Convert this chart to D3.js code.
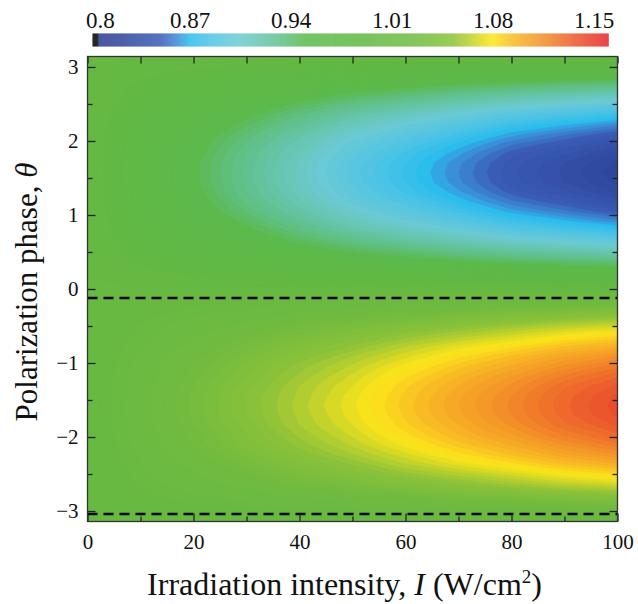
<!DOCTYPE html>
<html>
<head>
<meta charset="utf-8">
<script src="https://cdn.jsdelivr.net/npm/d3@7"></script>
<style>
  body { margin: 0; background: #fff; }
  svg text { font-family: "Liberation Serif", "Times New Roman", serif; fill: #111; }
</style>
</head>
<body>
<div id="chart"></div>
<script>
// irradiation intensity (columns) and polarization phase (rows) of the sampled map
const intensity = [0, 10, 20, 30, 40, 50, 60, 70, 80, 90, 100];
const phase = [-3.142, -3.011, -2.880, -2.749, -2.618, -2.487, -2.356, -2.225, -2.094, -1.963, -1.833, -1.702,
    -1.571, -1.440, -1.309, -1.178, -1.047, -0.916, -0.785, -0.654, -0.524, -0.393, -0.262, -0.131,
    0, 0.131, 0.262, 0.393, 0.524, 0.654, 0.785, 0.916, 1.047, 1.178, 1.309, 1.440,
    1.571, 1.702, 1.833, 1.963, 2.094, 2.225, 2.356, 2.487, 2.618, 2.749, 2.880, 3.011, 3.142];

// ratio, one row per phase value
const ratio = [
    [1, 1.000, 1.000, 1.000, 1.000, 1.000, 1.000, 1.000, 1.000, 1.000, 1.000],
    [1, 1.002, 1.004, 1.006, 1.008, 1.010, 1.012, 1.014, 1.015, 1.017, 1.019],
    [1, 1.004, 1.009, 1.012, 1.016, 1.019, 1.023, 1.027, 1.030, 1.034, 1.037],
    [1, 1.007, 1.013, 1.018, 1.024, 1.029, 1.034, 1.040, 1.045, 1.050, 1.054],
    [1, 1.009, 1.017, 1.024, 1.031, 1.038, 1.045, 1.052, 1.059, 1.066, 1.071],
    [1, 1.010, 1.020, 1.029, 1.038, 1.046, 1.055, 1.063, 1.071, 1.080, 1.086],
    [1, 1.012, 1.023, 1.034, 1.044, 1.053, 1.064, 1.074, 1.083, 1.093, 1.100],
    [1, 1.013, 1.026, 1.038, 1.049, 1.060, 1.071, 1.083, 1.093, 1.104, 1.113],
    [1, 1.015, 1.029, 1.042, 1.054, 1.065, 1.078, 1.090, 1.101, 1.113, 1.123],
    [1, 1.016, 1.030, 1.044, 1.057, 1.069, 1.083, 1.096, 1.108, 1.121, 1.131],
    [1, 1.016, 1.032, 1.046, 1.060, 1.072, 1.087, 1.100, 1.113, 1.127, 1.137],
    [1, 1.017, 1.033, 1.048, 1.061, 1.074, 1.089, 1.103, 1.116, 1.130, 1.141],
    [1, 1.017, 1.033, 1.048, 1.062, 1.075, 1.090, 1.104, 1.117, 1.131, 1.142],
    [1, 1.017, 1.033, 1.048, 1.061, 1.074, 1.089, 1.103, 1.116, 1.130, 1.141],
    [1, 1.016, 1.032, 1.046, 1.060, 1.072, 1.087, 1.100, 1.113, 1.127, 1.137],
    [1, 1.016, 1.030, 1.044, 1.057, 1.069, 1.083, 1.096, 1.108, 1.121, 1.131],
    [1, 1.015, 1.029, 1.042, 1.054, 1.065, 1.078, 1.090, 1.101, 1.113, 1.123],
    [1, 1.013, 1.026, 1.038, 1.049, 1.060, 1.071, 1.083, 1.093, 1.104, 1.113],
    [1, 1.012, 1.023, 1.034, 1.044, 1.053, 1.064, 1.074, 1.083, 1.093, 1.100],
    [1, 1.010, 1.020, 1.029, 1.038, 1.046, 1.055, 1.063, 1.071, 1.080, 1.086],
    [1, 1.009, 1.017, 1.024, 1.031, 1.038, 1.045, 1.052, 1.059, 1.066, 1.071],
    [1, 1.007, 1.013, 1.018, 1.024, 1.029, 1.034, 1.040, 1.045, 1.050, 1.054],
    [1, 1.004, 1.009, 1.012, 1.016, 1.019, 1.023, 1.027, 1.030, 1.034, 1.037],
    [1, 1.002, 1.004, 1.006, 1.008, 1.010, 1.012, 1.014, 1.015, 1.017, 1.019],
    [1, 1.000, 1.000, 1.000, 1.000, 1.000, 1.000, 1.000, 1.000, 1.000, 1.000],
    [1, 0.997, 0.994, 0.991, 0.988, 0.986, 0.984, 0.982, 0.980, 0.978, 0.977],
    [1, 0.994, 0.987, 0.982, 0.977, 0.972, 0.968, 0.964, 0.960, 0.957, 0.955],
    [1, 0.990, 0.981, 0.973, 0.966, 0.958, 0.952, 0.946, 0.941, 0.937, 0.933],
    [1, 0.988, 0.975, 0.965, 0.955, 0.945, 0.938, 0.930, 0.923, 0.918, 0.913],
    [1, 0.985, 0.970, 0.957, 0.945, 0.933, 0.924, 0.915, 0.906, 0.900, 0.894],
    [1, 0.982, 0.965, 0.951, 0.936, 0.922, 0.912, 0.901, 0.890, 0.883, 0.876],
    [1, 0.980, 0.960, 0.945, 0.929, 0.913, 0.901, 0.889, 0.877, 0.869, 0.861],
    [1, 0.978, 0.957, 0.939, 0.922, 0.905, 0.892, 0.879, 0.866, 0.857, 0.848],
    [1, 0.977, 0.954, 0.935, 0.917, 0.898, 0.885, 0.871, 0.857, 0.848, 0.838],
    [1, 0.976, 0.952, 0.932, 0.913, 0.894, 0.879, 0.865, 0.850, 0.841, 0.831],
    [1, 0.975, 0.950, 0.931, 0.911, 0.891, 0.876, 0.861, 0.846, 0.836, 0.827],
    [1, 0.975, 0.950, 0.930, 0.910, 0.890, 0.875, 0.860, 0.845, 0.835, 0.825],
    [1, 0.975, 0.950, 0.931, 0.911, 0.891, 0.876, 0.861, 0.846, 0.836, 0.827],
    [1, 0.976, 0.952, 0.932, 0.913, 0.894, 0.879, 0.865, 0.850, 0.841, 0.831],
    [1, 0.977, 0.954, 0.935, 0.917, 0.898, 0.885, 0.871, 0.857, 0.848, 0.838],
    [1, 0.978, 0.957, 0.939, 0.922, 0.905, 0.892, 0.879, 0.866, 0.857, 0.848],
    [1, 0.980, 0.960, 0.945, 0.929, 0.913, 0.901, 0.889, 0.877, 0.869, 0.861],
    [1, 0.982, 0.965, 0.951, 0.936, 0.922, 0.912, 0.901, 0.890, 0.883, 0.876],
    [1, 0.985, 0.970, 0.957, 0.945, 0.933, 0.924, 0.915, 0.906, 0.900, 0.894],
    [1, 0.988, 0.975, 0.965, 0.955, 0.945, 0.938, 0.930, 0.923, 0.918, 0.913],
    [1, 0.990, 0.981, 0.973, 0.966, 0.958, 0.952, 0.946, 0.941, 0.937, 0.933],
    [1, 0.994, 0.987, 0.982, 0.977, 0.972, 0.968, 0.964, 0.960, 0.957, 0.955],
    [1, 0.997, 0.994, 0.991, 0.988, 0.986, 0.984, 0.982, 0.980, 0.978, 0.977],
    [1, 1.000, 1.000, 1.000, 1.000, 1.000, 1.000, 1.000, 1.000, 1.000, 1.000]
];

// colour bar
const cbTicks = [0.8, 0.87, 0.94, 1.01, 1.08, 1.15];
const cmapStops = [0.800, 0.806, 0.807, 0.825, 0.850, 0.862, 0.870, 0.885, 0.903, 0.920, 0.936, 0.950,
    0.990, 1.030, 1.052, 1.063, 1.073, 1.080, 1.093, 1.114, 1.135, 1.160];
const cmapColors = ["#000000", "#000000", "#2a3a8e", "#2f459c", "#3a5cb5", "#3a8fd8", "#2bbdec", "#50c4e4",
    "#6ccad4", "#66c5aa", "#60bf80", "#5cb94c", "#62b843", "#72bb3f", "#8cc23a", "#b5cf30", "#e6dd20",
    "#fce51a", "#f8bd24", "#f38f28", "#ec5d2c", "#e8232c"];

const xTicks = [0, 20, 40, 60, 80, 100];
const xMinor = [10, 30, 50, 70, 90];
const yTicks = [-3, -2, -1, 0, 1, 2, 3];
const yMinor = [-2.5, -1.5, -0.5, 0.5, 1.5, 2.5];
const dashedPhases = [-0.12, -3.04];

const width = 638, height = 604;
const margin = { top: 56.5, right: 20.5, bottom: 82.5, left: 87.5 };
const serif = "'Liberation Serif', 'Times New Roman', serif";

const svg = d3.select("#chart").append("svg").attr("width", width).attr("height", height);

const x = d3.scaleLinear().domain([0, 100]).range([margin.left, width - margin.right]);
const y = d3.scaleLinear().domain([-Math.PI, Math.PI]).range([height - margin.bottom, margin.top]);
const color = d3.scaleLinear().domain(cmapStops).range(cmapColors).clamp(true);

// filled contour map
svg.append("clipPath").attr("id", "plot-clip")
    .append("rect")
    .attr("x", x(0)).attr("y", y(Math.PI))
    .attr("width", x(100) - x(0)).attr("height", y(-Math.PI) - y(Math.PI));

const nx = intensity.length, ny = phase.length;
const step = 0.004;
const thresholds = d3.range(0.796, 1.164, step);
const bands = d3.contours().size([nx, ny]).thresholds(thresholds)(ratio.flat());

const col = d3.scaleLinear().domain([0.5, nx - 0.5]).range([intensity[0], intensity[nx - 1]]);
const row = d3.scaleLinear().domain([0.5, ny - 0.5]).range([phase[0], phase[ny - 1]]);
const path = d3.geoPath(d3.geoTransform({
    point(px, py) { this.stream.point(x(col(px)), y(row(py))); }
}));

svg.append("g").attr("clip-path", "url(#plot-clip)")
    .selectAll("path")
    .data(bands)
    .join("path")
    .attr("d", path)
    .attr("fill", d => color(d.value + step / 2))
    .attr("stroke", d => color(d.value + step / 2))
    .attr("stroke-width", 0.5);

// dashed guide lines
svg.append("g").selectAll("line")
    .data(dashedPhases)
    .join("line")
    .attr("x1", x(0)).attr("x2", x(100))
    .attr("y1", d => y(d)).attr("y2", d => y(d))
    .attr("stroke", "#000")
    .attr("stroke-width", 2.5)
    .attr("stroke-dasharray", "10,6");

// axes, ticks pointing inward on all four sides
function styleAxis(g) {
    g.attr("font-family", serif);
    g.select(".domain").remove();
    g.selectAll(".tick line").attr("stroke", "#222").attr("stroke-width", 1.3);
    g.selectAll(".tick text").style("font-size", "21px").style("font-family", serif).attr("fill", "#111");
}

const bottom = height - margin.bottom, right = width - margin.right;

svg.append("g").attr("transform", `translate(0,${bottom})`)
    .call(d3.axisBottom(x).tickValues(xTicks).tickSize(-8).tickPadding(13).tickFormat(d3.format("d")))
    .call(styleAxis);
svg.append("g").attr("transform", `translate(0,${bottom})`)
    .call(d3.axisBottom(x).tickValues(xMinor).tickSize(-5).tickFormat(""))
    .call(styleAxis);
svg.append("g").attr("transform", `translate(0,${margin.top})`)
    .call(d3.axisTop(x).tickValues(xTicks.concat(xMinor)).tickSize(-7).tickFormat(""))
    .call(styleAxis);

svg.append("g").attr("transform", `translate(${margin.left},0)`)
    .call(d3.axisLeft(y).tickValues(yTicks).tickSize(-8).tickPadding(9).tickFormat(d3.format("d")))
    .call(styleAxis);
svg.append("g").attr("transform", `translate(${margin.left},0)`)
    .call(d3.axisLeft(y).tickValues(yMinor).tickSize(-5).tickFormat(""))
    .call(styleAxis);
svg.append("g").attr("transform", `translate(${right},0)`)
    .call(d3.axisRight(y).tickValues(yTicks).tickSize(-8).tickFormat(""))
    .call(styleAxis);
svg.append("g").attr("transform", `translate(${right},0)`)
    .call(d3.axisRight(y).tickValues(yMinor).tickSize(-5).tickFormat(""))
    .call(styleAxis);

svg.append("rect")
    .attr("x", x(0)).attr("y", y(Math.PI))
    .attr("width", x(100) - x(0)).attr("height", y(-Math.PI) - y(Math.PI))
    .attr("fill", "none")
    .attr("stroke", "#333")
    .attr("stroke-width", 1.3);

// colour bar
const cb = d3.scaleLinear().domain([0.8, 1.15]).range([89, 594]);
const cbLeft = 92.5, cbRight = 608.5;
svg.append("g").selectAll("rect")
    .data(d3.range(cbLeft, cbRight, 1))
    .join("rect")
    .attr("x", d => d).attr("y", 33.5)
    .attr("width", 1.2).attr("height", 13)
    .attr("fill", d => color(cb.invert(d + 0.5)));

svg.append("g").selectAll("text")
    .data(cbTicks)
    .join("text")
    .attr("x", (d, i) => i === 0 ? cb(d) - 3 : cb(d))
    .attr("y", 28)
    .attr("text-anchor", (d, i) => i === 0 ? "start" : "middle")
    .style("font-family", serif)
    .style("font-size", "23px")
    .text(d => d);

// axis titles
const xTitle = svg.append("text")
    .attr("x", 344.5)
    .attr("y", 595)
    .attr("text-anchor", "middle")
    .style("font-family", serif)
    .style("font-size", "32px");
xTitle.append("tspan").text("Irradiation intensity, ");
xTitle.append("tspan").style("font-style", "italic").text("I");
xTitle.append("tspan").text(" (W/cm");
xTitle.append("tspan").attr("dy", -12).style("font-size", "19px").text("2");
xTitle.append("tspan").attr("dy", 12).text(")");

const yTitle = svg.append("text")
    .attr("transform", `translate(37,${(y(-Math.PI) + y(Math.PI)) / 2 + 3}) rotate(-90)`)
    .attr("text-anchor", "middle")
    .style("font-family", serif)
    .style("font-size", "31px");
yTitle.append("tspan").text("Polarization phase, ");
yTitle.append("tspan").style("font-style", "italic").text("θ");
</script>
</body>
</html>
